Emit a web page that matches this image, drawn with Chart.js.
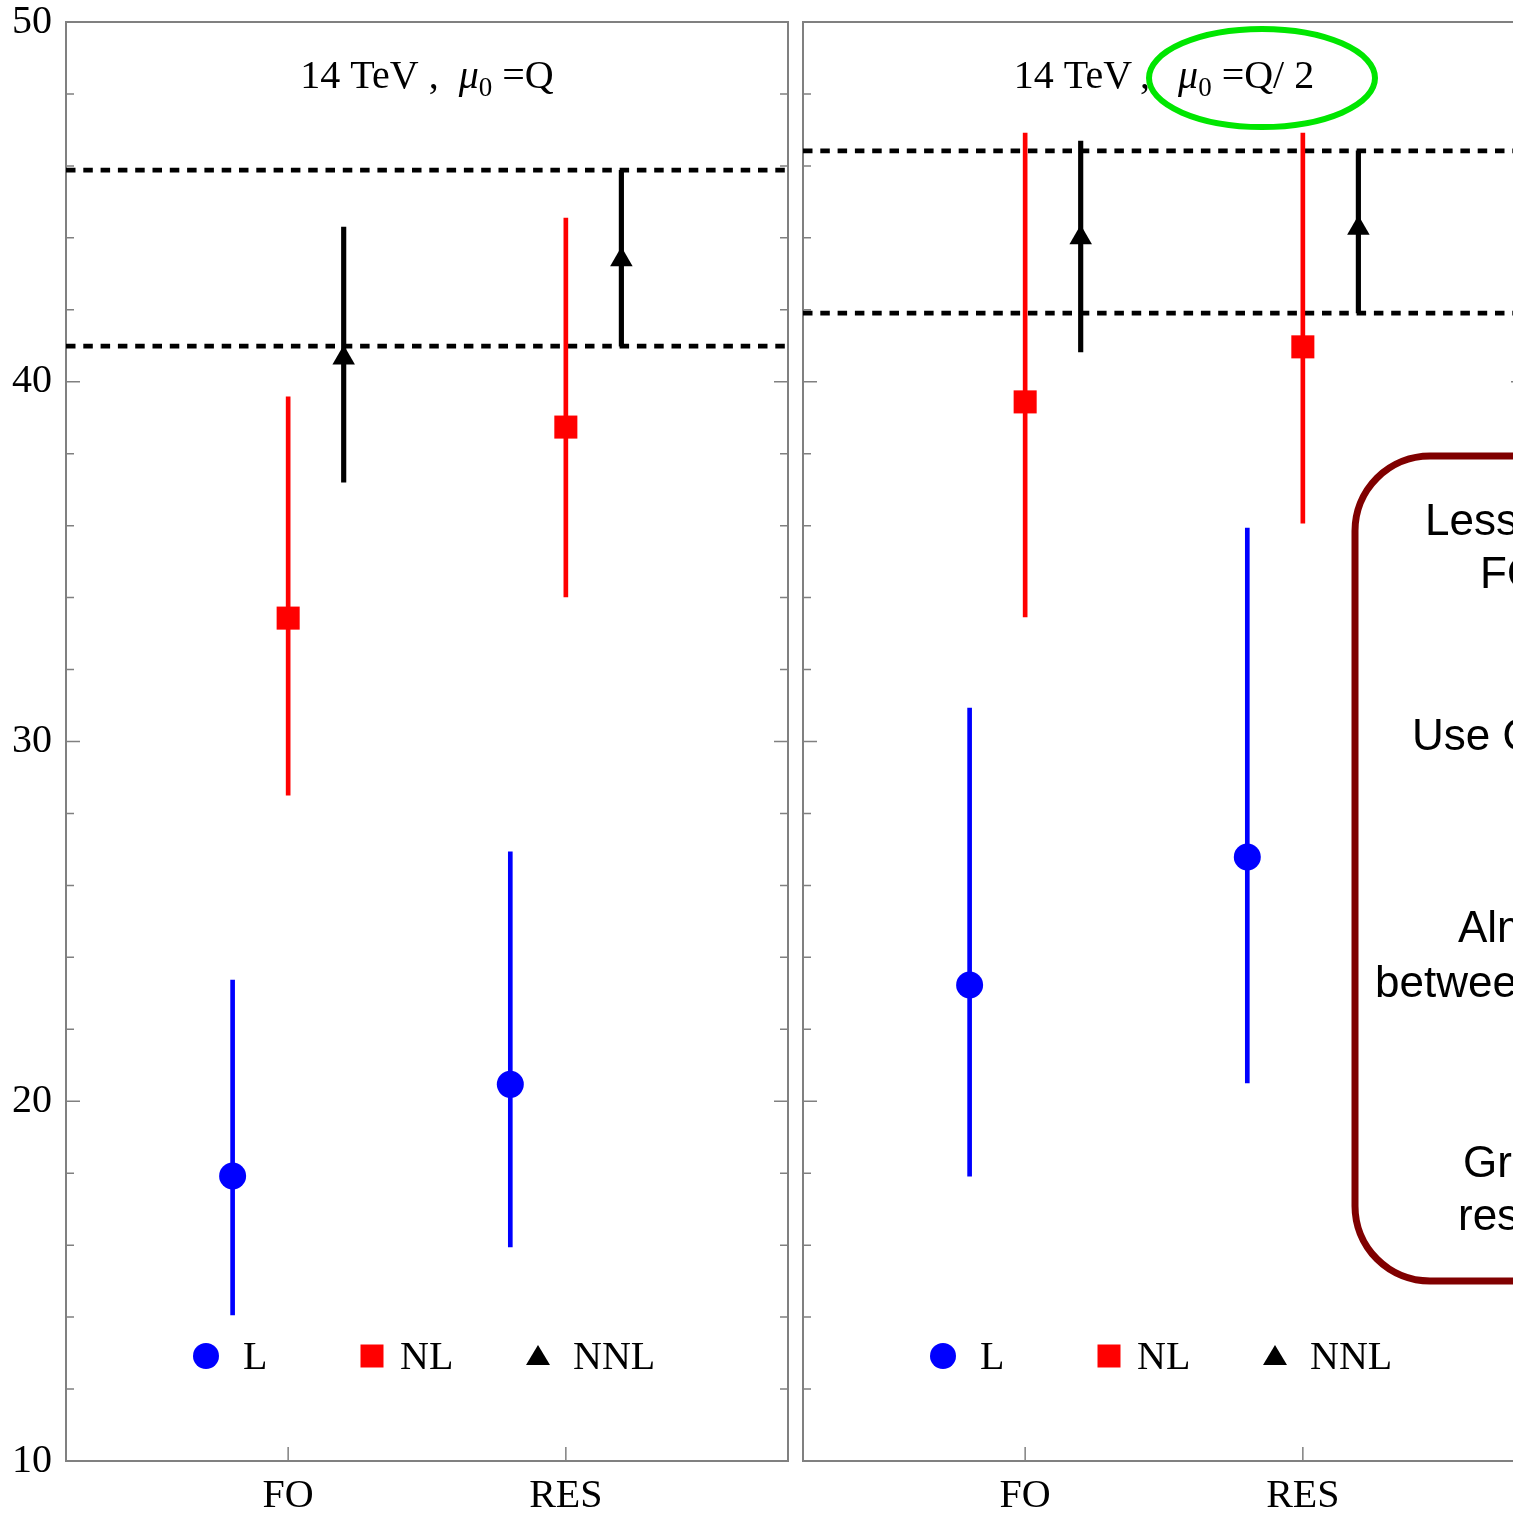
<!DOCTYPE html>
<html>
<head>
<meta charset="utf-8">
<script src="https://cdn.jsdelivr.net/npm/chart.js@4.4.0/dist/chart.umd.min.js"></script>
<style>
html,body{margin:0;padding:0;background:#fff;overflow:hidden;width:1513px;height:1514px;}
#left{position:absolute;left:0;top:0;}
#right{position:absolute;left:796px;top:0;}
</style>
</head>
<body>
<canvas id="left" width="796" height="1514"></canvas>
<canvas id="right" width="729" height="1514"></canvas>
<script>
const categories=["FO","RES"];
const orders=["L","NL","NNL"];
const categoryX=[1,2];
const orderOffset=[-0.2,0,0.2];
const yTickValues=[10,20,30,40,50];

// mu0 = Q  (rows L, NL, NNL ; columns FO, RES)
const qCentral=[[17.92,20.47],[33.43,38.74],[40.66,43.39]];
const qLow=[[14.06,15.95],[28.51,34.02],[37.21,40.99]];
const qHigh=[[23.37,26.93],[39.58,44.55],[44.30,45.88]];
const qBand=[45.88,40.99];

// mu0 = Q/2
const hCentral=[[23.23,26.79],[39.44,40.97],[44.00,44.27]];
const hLow=[[17.92,20.51],[33.46,36.07],[40.83,41.91]];
const hHigh=[[30.93,35.93],[46.91,46.91],[46.69,46.42]];
const hBand=[46.42,41.91];

const boxLines=["Less scale dependence","FO than RES","Use Q/2 as scale","Almost no overlap","between FO and RES","Greater effect of","resummation"];

const seriesColors=["#0000ff","#ff0000","#000000"];
const pointStyles=["circle","rect","triangle"];
const pointRadii=[13.5,16.3,13];
const barWidths=[4,4,4.5];
const xMin=0.2, xMax=2.8;

const SERIF='"Liberation Serif","Times New Roman",serif';
const SANS='"Liberation Sans",Arial,sans-serif';

function makeDatasets(central,low,high,band){
const ds=[];
orders.forEach((name,k)=>{
ds.push({
type:"scatter",label:name,order:0,
data:categoryX.map((c,i)=>({x:c+orderOffset[k],y:central[k][i]})),
pointStyle:pointStyles[k],pointRadius:pointRadii[k],pointHoverRadius:pointRadii[k],
backgroundColor:seriesColors[k],borderWidth:0
});
ds.push({
type:"bar",label:name+" range",order:1,
data:categoryX.map((c,i)=>({x:c+orderOffset[k],y:[low[k][i],high[k][i]]})),
backgroundColor:seriesColors[k],barThickness:barWidths[k],grouped:false,borderWidth:0
});
});
band.forEach(v=>{
ds.push({
type:"line",order:2,
data:[{x:xMin,y:v},{x:xMax,y:v}],
borderColor:"#000",borderWidth:4.8,borderDash:[9.5,7.8],pointRadius:0,fill:false
});
});
return ds;
}

const framePlugin={
id:"frame",
beforeDatasetsDraw(chart){
const a=chart.chartArea, ctx=chart.ctx, y=chart.scales.y, x=chart.scales.x;
ctx.save();
ctx.strokeStyle="#808080";
ctx.lineWidth=2;
ctx.strokeRect(a.left,a.top,a.right-a.left,a.bottom-a.top);
ctx.lineWidth=1.5;
ctx.beginPath();
for(let v=10;v<=50;v+=2){
const py=y.getPixelForValue(v);
const len=(v%10===0)?14:8;
ctx.moveTo(a.left,py);ctx.lineTo(a.left+len,py);
ctx.moveTo(a.right,py);ctx.lineTo(a.right-len,py);
}
categoryX.forEach(c=>{
const px=x.getPixelForValue(c);
ctx.moveTo(px,a.bottom);ctx.lineTo(px,a.bottom-14);
});
ctx.stroke();
ctx.restore();
}
};

const legendPlugin={
id:"innerLegend",
afterDraw(chart){
const a=chart.chartArea, ctx=chart.ctx;
const cy=a.bottom-105;
const markX=[140,306,472];
const textX=[177,334,507];
ctx.save();
orders.forEach((name,k)=>{
const mx=a.left+markX[k];
ctx.fillStyle=seriesColors[k];
ctx.beginPath();
if(k===0){ctx.arc(mx,cy,13,0,Math.PI*2);}
else if(k===1){ctx.rect(mx-11.5,cy-11.5,23,23);}
else{ctx.moveTo(mx,cy-11);ctx.lineTo(mx+12,cy+9);ctx.lineTo(mx-12,cy+9);ctx.closePath();}
ctx.fill();
ctx.fillStyle="#000";
ctx.font="40px "+SERIF;
ctx.textBaseline="alphabetic";
ctx.fillText(name,a.left+textX[k],cy+13);
});
ctx.restore();
}
};

function titlePlugin(segments){
return {
id:"panelTitle",
afterDraw(chart){
const a=chart.chartArea, ctx=chart.ctx;
ctx.save();
ctx.fillStyle="#000";
ctx.textBaseline="alphabetic";
const fontOf=s=>s==="i"?"italic 40px "+SERIF:(s==="sub"?"27px "+SERIF:"40px "+SERIF);
let total=0;
segments.forEach(g=>{ctx.font=fontOf(g.s);total+=ctx.measureText(g.t).width;});
let px=(a.left+a.right)/2-total/2;
segments.forEach(g=>{
ctx.font=fontOf(g.s);
ctx.fillText(g.t,px,g.s==="sub"?96:88);
px+=ctx.measureText(g.t).width;
});
ctx.restore();
}
};
}

const notePlugin={
id:"note",
afterDraw(chart){
const ctx=chart.ctx;
const off=796;
ctx.save();
// highlight around the scale choice
ctx.strokeStyle="rgb(0,230,0)";
ctx.lineWidth=6;
ctx.beginPath();
ctx.ellipse(1262-off,78,113,49,0,0,Math.PI*2);
ctx.stroke();
// comment box
const bx=1355-off, by=456, bw=400, bh=825, r=75;
ctx.beginPath();
ctx.moveTo(bx+r,by);
ctx.lineTo(bx+bw,by);
ctx.lineTo(bx+bw,by+bh);
ctx.lineTo(bx+r,by+bh);
ctx.arcTo(bx,by+bh,bx,by+bh-r,r);
ctx.lineTo(bx,by+r);
ctx.arcTo(bx,by,bx+r,by,r);
ctx.closePath();
ctx.fillStyle="#fff";
ctx.fill();
ctx.strokeStyle="#800000";
ctx.lineWidth=7;
ctx.stroke();
ctx.fillStyle="#000";
ctx.font="44px "+SANS;
const tx=[1425,1480,1412,1458,1375,1463,1458];
const ty=[535,588,750,942,997,1177,1230];
boxLines.forEach((t,i)=>ctx.fillText(t,tx[i]-off,ty[i]));
ctx.restore();
}
};

function makeChart(id,central,low,high,band,showY,segments,extra){
const plugins=[framePlugin,legendPlugin,titlePlugin(segments)];
if(extra) plugins.push(extra);
return new Chart(document.getElementById(id),{
type:"scatter",
data:{datasets:makeDatasets(central,low,high,band)},
options:{
responsive:false,
animation:false,
events:[],
layout:{autoPadding:false,padding:{top:22,left:0,right:showY?8:0,bottom:0}},
plugins:{legend:{display:false},tooltip:{enabled:false}},
scales:{
x:{
type:"linear",min:xMin,max:xMax,offset:false,
grid:{display:false,drawTicks:false},
border:{display:false},
afterBuildTicks:s=>{s.ticks=categoryX.map(v=>({value:v}));},
afterFit:s=>{s.height=53;s.paddingLeft=0;s.paddingRight=0;},
ticks:{padding:15,color:"#000",font:{family:SERIF,size:40,lineHeight:1},
callback:v=>categories[categoryX.indexOf(v)]||"",maxRotation:0,autoSkip:false}
},
y:{
type:"linear",min:10,max:50,display:showY,
grid:{display:false,drawTicks:false},
border:{display:false},
afterBuildTicks:s=>{s.ticks=yTickValues.map(v=>({value:v}));},
afterFit:s=>{s.width=showY?66:7;s.paddingTop=0;s.paddingBottom=0;},
ticks:{padding:14,color:"#000",font:{family:SERIF,size:40,lineHeight:1}}
}
}
},
plugins:plugins
});
}

makeChart("left",qCentral,qLow,qHigh,qBand,true,
[{t:"14 TeV ,  ",s:"n"},{t:"μ",s:"i"},{t:"0",s:"sub"},{t:" =Q",s:"n"}]);
makeChart("right",hCentral,hLow,hHigh,hBand,false,
[{t:"14 TeV\u2009,  \u2009",s:"n"},{t:"μ",s:"i"},{t:"0",s:"sub"},{t:" =Q/ 2",s:"n"}],notePlugin);
</script>
</body>
</html>
